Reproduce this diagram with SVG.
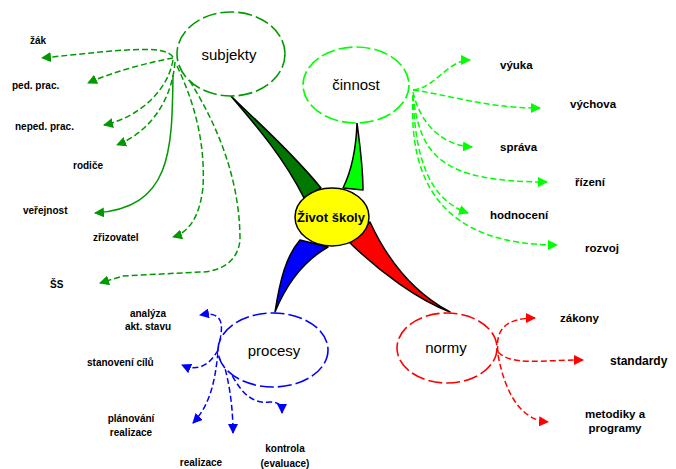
<svg xmlns="http://www.w3.org/2000/svg" width="676" height="469" viewBox="0 0 676 469">
<style>
.lbl{font-family:"Liberation Sans",Arial,sans-serif;font-weight:bold;fill:#000}
.s{font-size:10px}
.m{font-size:11.5px}
.node{font-family:"Liberation Sans",Arial,sans-serif;font-size:15px;fill:#000}
.c{fill:none;stroke-width:1.5;stroke-dasharray:6 3}
.g1{stroke:#009900}.g2{stroke:#00ff00}.b{stroke:#0000ff}.r{stroke:#ff0000}
.ell{fill:#fff;stroke-width:1.6;stroke-dasharray:14 4}
.taper{stroke:#000;stroke-width:1.5;stroke-linejoin:round}
</style>
<defs>
<marker id="ag1" viewBox="0 0 10 10" refX="9" refY="5" markerWidth="10" markerHeight="10" markerUnits="userSpaceOnUse" orient="auto"><path d="M0,0 L10,5 L0,10 Z" fill="#009900"/></marker>
<marker id="ag2" viewBox="0 0 10 10" refX="9" refY="5" markerWidth="10" markerHeight="10" markerUnits="userSpaceOnUse" orient="auto"><path d="M0,0 L10,5 L0,10 Z" fill="#00ff00"/></marker>
<marker id="ab" viewBox="0 0 10 10" refX="9" refY="5" markerWidth="10" markerHeight="10" markerUnits="userSpaceOnUse" orient="auto"><path d="M0,0 L10,5 L0,10 Z" fill="#0000ff"/></marker>
<marker id="ar" viewBox="0 0 10 10" refX="9" refY="5" markerWidth="10" markerHeight="10" markerUnits="userSpaceOnUse" orient="auto"><path d="M0,0 L10,5 L0,10 Z" fill="#ff0000"/></marker>
</defs>
<rect width="676" height="469" fill="#fff"/>
<g id="connectors">
<g id="subjekty-links">
<path class="c g1" d="M173,57 C165,44 120,50 42,58" marker-end="url(#ag1)"/>
<path class="c g1" d="M173,58 C150,62 112,72 88,83" marker-end="url(#ag1)"/>
<path class="c g1" d="M173,60 C168,90 140,117 104,125" marker-end="url(#ag1)"/>
<path class="c g1" d="M175,62 C172,100 150,132 117,145" marker-end="url(#ag1)"/>
<path class="g1" fill="none" stroke-width="1.5" d="M173,75 C172,150 172,208 95,213" marker-end="url(#ag1)"/>
<path class="c g1" d="M177,66 C198,110 205,150 203,187 C200,215 190,232 173,237" marker-end="url(#ag1)"/>
<path class="c g1" d="M180,66 C210,110 240,170 240,240 C238,262 220,272 200,272 L123,276 L100,283" marker-end="url(#ag1)"/>
</g>
<g id="cinnost-links">
<path class="c g2" d="M413,90 C435,88 448,60 470,60" marker-end="url(#ag2)"/>
<path class="c g2" d="M413,90 C450,95 485,108 540,108" marker-end="url(#ag2)"/>
<path class="c g2" d="M413,92 C420,122 440,145 472,147" marker-end="url(#ag2)"/>
<path class="c g2" d="M413,95 C420,155 440,182 547,182" marker-end="url(#ag2)"/>
<path class="c g2" d="M413,95 C415,160 430,200 468,213" marker-end="url(#ag2)"/>
<path class="c g2" d="M413,95 C408,185 445,245 557,245" marker-end="url(#ag2)"/>
</g>
<g id="procesy-links">
<path class="c b" d="M218,350 C222,330 228,310 200,315" marker-end="url(#ab)"/>
<path class="c b" d="M218,350 C210,365 198,372 182,365" marker-end="url(#ab)"/>
<path class="c b" d="M218,352 C215,382 210,405 193,423" marker-end="url(#ab)"/>
<path class="c b" d="M220,352 C230,380 233,410 233,433" marker-end="url(#ab)"/>
<path class="c b" d="M220,352 C235,382 245,405 270,402 C282,402 282,408 282,413" marker-end="url(#ab)"/>
</g>
<g id="normy-links">
<path class="c r" d="M498,352 C495,330 505,318 535,318" marker-end="url(#ar)"/>
<path class="c r" d="M498,352 C512,366 540,360 583,360" marker-end="url(#ar)"/>
<path class="c r" d="M498,355 C505,392 520,420 548,422" marker-end="url(#ar)"/>
</g>
<g id="tapers">
<path class="taper" fill="#007700" d="M230,95 C255,120 290,150 321,188 L304,198 C285,160 260,130 230,95 Z"/>
<path class="taper" fill="#00ff00" d="M357,123 C360,145 363,170 363,190 L343,188 C352,170 356,150 357,123 Z"/>
<path class="taper" fill="#0000ff" d="M275,312 C280,280 286,256 300,240 L328,247 C302,262 286,285 275,312 Z"/>
<path class="taper" fill="#ff0000" d="M370,222 C382,248 405,288 450,312 C418,300 380,272 350,243 Z"/>
</g>
</g>
<g id="n-subjekty"><ellipse class="ell" cx="231" cy="54" rx="54" ry="42" stroke="#009900"/><text class="node" x="229" y="60" text-anchor="middle">subjekty</text></g>
<g id="n-cinnost"><ellipse class="ell" cx="356" cy="85" rx="53" ry="38" stroke="#00ff00"/><text class="node" x="356" y="90" text-anchor="middle">činnost</text></g>
<g id="n-procesy"><ellipse class="ell" cx="273" cy="350" rx="55" ry="37" stroke="#0000ff"/><text class="node" x="274" y="356" text-anchor="middle">procesy</text></g>
<g id="n-normy"><ellipse class="ell" cx="447" cy="348" rx="50" ry="35" stroke="#ff0000"/><text class="node" x="446" y="353" text-anchor="middle">normy</text></g>
<g id="n-center"><ellipse cx="332" cy="217" rx="37" ry="29" fill="#ffff00" stroke="#000" stroke-width="1.5"/><text class="lbl" x="331" y="222" font-size="13" text-anchor="middle">Život školy</text></g>
<g id="labels-subjekty">
<text class="lbl s" x="30" y="44">žák</text>
<text class="lbl s" x="12" y="89">ped. prac.</text>
<text class="lbl s" x="15" y="130">neped. prac.</text>
<text class="lbl s" x="73" y="169">rodiče</text>
<text class="lbl s" x="23" y="214">veřejnost</text>
<text class="lbl s" x="93" y="241">zřizovatel</text>
<text class="lbl s" x="50" y="288">ŠS</text>
</g>
<g id="labels-cinnost">
<text class="lbl m" x="500" y="69">výuka</text>
<text class="lbl m" x="570" y="108">výchova</text>
<text class="lbl m" x="500" y="151">správa</text>
<text class="lbl m" x="575" y="186">řízení</text>
<text class="lbl m" x="490" y="219">hodnocení</text>
<text class="lbl m" x="585" y="252">rozvoj</text>
</g>
<g id="labels-procesy">
<text class="lbl s" x="148" y="317" text-anchor="middle">analýza</text>
<text class="lbl s" x="148" y="330" text-anchor="middle">akt. stavu</text>
<text class="lbl s" x="87" y="366">stanovení cílů</text>
<text class="lbl s" x="131" y="422" text-anchor="middle">plánování</text>
<text class="lbl s" x="131" y="436" text-anchor="middle">realizace</text>
<text class="lbl s" x="201" y="466" text-anchor="middle">realizace</text>
<text class="lbl s" x="285" y="452" text-anchor="middle">kontrola</text>
<text class="lbl s" x="285" y="467" text-anchor="middle">(evaluace)</text>
</g>
<g id="labels-normy">
<text class="lbl m" x="560" y="322">zákony</text>
<text class="lbl" x="610" y="365" font-size="12">standardy</text>
<text class="lbl m" x="615" y="418" text-anchor="middle">metodiky a</text>
<text class="lbl m" x="615" y="432" text-anchor="middle">programy</text>
</g>
</svg>
